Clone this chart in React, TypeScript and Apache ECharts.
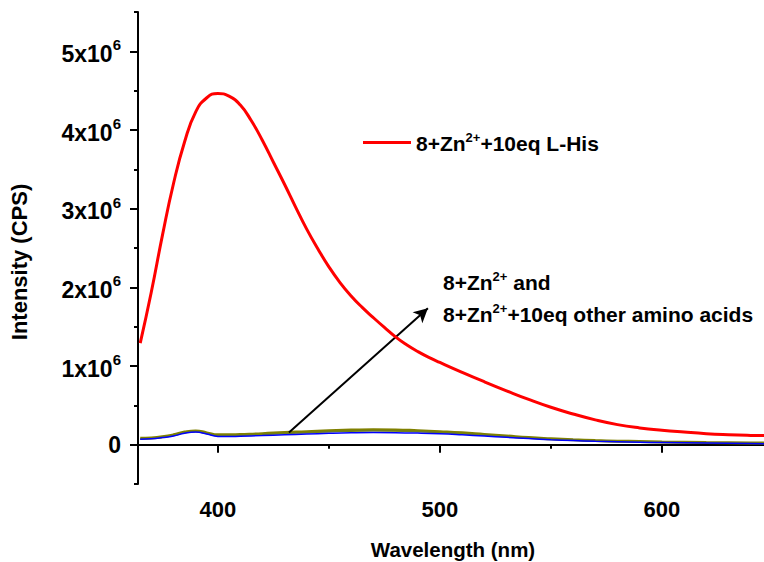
import React, { useEffect, useRef } from "react";
import * as echarts from "echarts";

// Emission spectra (wavelength in nm, intensity in CPS)
const hisWavelength = [365, 370, 375, 380, 385, 390, 395, 400, 405, 410, 415, 420, 425, 430, 435, 440, 445, 450, 455, 460, 465, 470, 475, 480, 485, 490, 495, 500, 510, 520, 530, 540, 550, 560, 570, 580, 590, 600, 610, 620, 630, 640, 646];
const hisIntensity = [1.29e6, 1.94e6, 2.66e6, 3.32e6, 3.85e6, 4.23e6, 4.41e6, 4.465e6, 4.43e6, 4.32e6, 4.12e6, 3.87e6, 3.59e6, 3.31e6, 3.02e6, 2.74e6, 2.49e6, 2.26e6, 2.06e6, 1.89e6, 1.745e6, 1.615e6, 1.49e6, 1.37e6, 1.27e6, 1.185e6, 1.11e6, 1.045e6, 0.92e6, 0.80e6, 0.685e6, 0.575e6, 0.475e6, 0.39e6, 0.315e6, 0.255e6, 0.213e6, 0.183e6, 0.16e6, 0.14e6, 0.127e6, 0.118e6, 0.115e6];

const baseWavelength = [365, 370, 375, 380, 385, 390, 395, 400, 405, 410, 420, 430, 440, 450, 460, 470, 480, 490, 500, 510, 520, 530, 540, 550, 560, 570, 580, 590, 600, 620, 640, 646];
const znIntensity = [0.07e6, 0.075e6, 0.09e6, 0.11e6, 0.145e6, 0.16e6, 0.135e6, 0.105e6, 0.103e6, 0.107e6, 0.115e6, 0.125e6, 0.135e6, 0.145e6, 0.152e6, 0.155e6, 0.153e6, 0.147e6, 0.138e6, 0.125e6, 0.11e6, 0.093e6, 0.077e6, 0.063e6, 0.052e6, 0.043e6, 0.036e6, 0.03e6, 0.026e6, 0.02e6, 0.015e6, 0.013e6];
const aminoIntensityA = [0.08e6, 0.085e6, 0.1e6, 0.125e6, 0.16e6, 0.175e6, 0.15e6, 0.125e6, 0.125e6, 0.13e6, 0.14e6, 0.155e6, 0.165e6, 0.178e6, 0.185e6, 0.19e6, 0.188e6, 0.178e6, 0.165e6, 0.15e6, 0.13e6, 0.11e6, 0.09e6, 0.075e6, 0.062e6, 0.052e6, 0.045e6, 0.04e6, 0.035e6, 0.028e6, 0.022e6, 0.02e6];
const aminoIntensityB = [0.075e6, 0.08e6, 0.095e6, 0.118e6, 0.153e6, 0.168e6, 0.143e6, 0.116e6, 0.115e6, 0.12e6, 0.13e6, 0.142e6, 0.153e6, 0.165e6, 0.172e6, 0.176e6, 0.174e6, 0.166e6, 0.154e6, 0.14e6, 0.122e6, 0.103e6, 0.085e6, 0.07e6, 0.058e6, 0.048e6, 0.041e6, 0.036e6, 0.031e6, 0.025e6, 0.019e6, 0.017e6];

const xMajorTicks = [400, 500, 600];
const xMinorTicks = [450, 550];
const yMajorTicks = [0, 1e6, 2e6, 3e6, 4e6, 5e6];
const yMinorTicks = [-0.5e6, 0.5e6, 1.5e6, 2.5e6, 3.5e6, 4.5e6, 5.5e6];

const hisName = "8+Zn2++10eq L-His";
const FONT = "'Liberation Sans', Arial, sans-serif";

const pairs = (xs: number[], ys: number[]) => xs.map((x, i) => [x, ys[i]]);

export default function App() {
  const ref = useRef<HTMLDivElement>(null);

  useEffect(() => {
    if (!ref.current) return;
    const chart = echarts.init(ref.current, undefined, { renderer: "svg" });

    const supRich = (base: number, sup: number, raise: number) => ({
      n: { fontSize: base, fontWeight: "bold", fontFamily: FONT, color: "#000", verticalAlign: "bottom" },
      s: { fontSize: sup, fontWeight: "bold", fontFamily: FONT, color: "#000", verticalAlign: "bottom", padding: [0, 0, raise, 0] },
    });
    const gRich = (base: number, sup: number, raise: number) => ({
      n: { fontSize: base, fontWeight: "bold", fontFamily: FONT, fill: "#000", verticalAlign: "bottom" },
      s: { fontSize: sup, fontWeight: "bold", fontFamily: FONT, fill: "#000", verticalAlign: "bottom", padding: [0, 0, raise, 0] },
    });

    const axisLineStyle = { color: "#000", width: 2 };

    chart.setOption({
      animation: false,
      backgroundColor: "#fff",
      grid: { left: 138, top: 12, right: 0, bottom: 78, containLabel: false },
      legend: {
        data: [hisName],
        left: 358,
        top: 126,
        icon: "rect",
        itemWidth: 48,
        itemHeight: 3,
        itemGap: 6,
        selectedMode: false,
        formatter: () => "{n|8+Zn}{s|2+}{n|+10eq L-His}",
        textStyle: { rich: supRich(21, 13, 10) },
      },
      xAxis: [
        {
          type: "value",
          min: 364,
          max: 646,
          axisLine: { show: true, lineStyle: axisLineStyle },
          axisTick: { show: true, customValues: xMajorTicks, length: 8, lineStyle: axisLineStyle },
          axisLabel: {
            customValues: xMajorTicks,
            margin: 14,
            color: "#000",
            fontSize: 22,
            fontWeight: "bold",
            fontFamily: FONT,
          },
          splitLine: { show: false },
        },
        {
          type: "value",
          min: 364,
          max: 646,
          position: "bottom",
          axisLine: { show: false },
          axisTick: { show: true, customValues: xMinorTicks, length: 4, lineStyle: axisLineStyle },
          axisLabel: { show: false },
          splitLine: { show: false },
        },
      ],
      yAxis: [
        {
          type: "value",
          min: -0.5e6,
          max: 5.5e6,
          axisLine: { show: true, lineStyle: axisLineStyle },
          axisTick: { show: true, customValues: yMajorTicks, length: 8, lineStyle: axisLineStyle },
          axisLabel: {
            customValues: yMajorTicks,
            margin: 17,
            formatter: (v: number) => (v === 0 ? "{n|0}" : `{n|${Math.round(v / 1e6)}x10}{s|6}`),
            rich: supRich(23, 15, 13),
          },
          splitLine: { show: false },
        },
        {
          type: "value",
          min: -0.5e6,
          max: 5.5e6,
          position: "left",
          axisLine: { show: false },
          axisTick: { show: true, customValues: yMinorTicks, length: 4, lineStyle: axisLineStyle },
          axisLabel: { show: false },
          splitLine: { show: false },
        },
      ],
      graphic: [
        {
          type: "text",
          x: 19,
          y: 262,
          rotation: Math.PI / 2,
          style: {
            text: "Intensity (CPS)",
            fill: "#000",
            fontSize: 22,
            fontWeight: "bold",
            fontFamily: FONT,
            textAlign: "center",
            textVerticalAlign: "middle",
          },
        },
        {
          type: "text",
          x: 453,
          y: 549,
          style: {
            text: "Wavelength (nm)",
            fill: "#000",
            fontSize: 20.5,
            fontWeight: "bold",
            fontFamily: FONT,
            textAlign: "center",
            textVerticalAlign: "middle",
          },
        },
        {
          type: "text",
          x: 443,
          y: 293,
          style: {
            text: "{n|8+Zn}{s|2+}{n| and}",
            rich: gRich(21, 13, 10),
            textAlign: "left",
            textVerticalAlign: "bottom",
          },
        },
        {
          type: "text",
          x: 443,
          y: 325,
          style: {
            text: "{n|8+Zn}{s|2+}{n|+10eq other amino acids}",
            rich: gRich(21, 13, 10),
            textAlign: "left",
            textVerticalAlign: "bottom",
          },
        },
      ],
      series: [
        {
          name: "8+Zn2++10eq amino acid A",
          type: "line",
          data: pairs(baseWavelength, aminoIntensityA),
          smooth: true,
          showSymbol: false,
          lineStyle: { color: "#808000", width: 3 },
          itemStyle: { color: "#808000" },
          z: 2,
        },
        {
          name: "8+Zn2++10eq amino acid B",
          type: "line",
          data: pairs(baseWavelength, aminoIntensityB),
          smooth: true,
          showSymbol: false,
          lineStyle: { color: "#6f7f1a", width: 1.5 },
          itemStyle: { color: "#6f7f1a" },
          z: 3,
        },
        {
          name: "8+Zn2+",
          type: "line",
          data: pairs(baseWavelength, znIntensity),
          smooth: true,
          showSymbol: false,
          lineStyle: { color: "#0000ff", width: 1.5 },
          itemStyle: { color: "#0000ff" },
          z: 4,
          markLine: {
            silent: true,
            symbol: ["none", "arrow"],
            symbolSize: [11, 14],
            label: { show: false },
            lineStyle: { color: "#000", width: 2, type: "solid" },
            data: [[{ coord: [432, 0.156e6] }, { coord: [494.6, 1.733e6] }]],
          },
        },
        {
          name: hisName,
          type: "line",
          data: pairs(hisWavelength, hisIntensity),
          smooth: true,
          showSymbol: false,
          lineStyle: { color: "#ff0000", width: 3 },
          itemStyle: { color: "#ff0000" },
          z: 5,
        },
      ],
    });

    return () => chart.dispose();
  }, []);

  return (
    <div
      ref={ref}
      style={{ position: "absolute", left: 0, top: 0, width: 764, height: 562 }}
    />
  );
}
